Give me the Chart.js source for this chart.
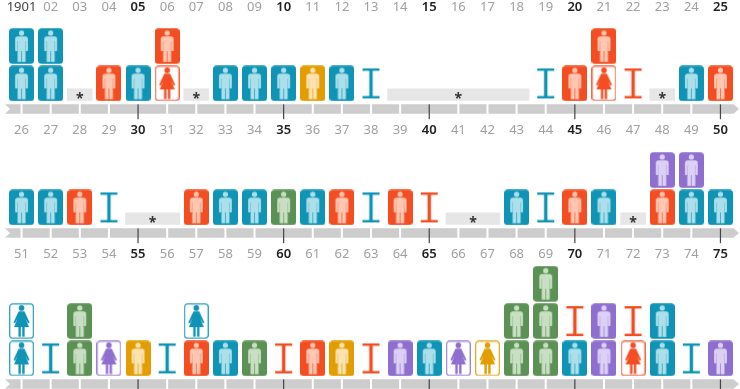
<!DOCTYPE html>
<html>
<head>
<meta charset="utf-8">
<title>Timeline</title>
<script src="https://cdn.jsdelivr.net/npm/chart.js@4"></script>
<style>
  html, body { margin: 0; padding: 0; background: #fff; }
  #page { position: relative; width: 740px; height: 389px; overflow: hidden; }
  #page canvas { position: absolute; left: 0; }
</style>
</head>
<body>
<div id="page"></div>
<script>
// Codes: colour (b r o g p) + kind (M man, W woman, I institution), bottom to top of the stack
const years1 = [1901, 1902, 1903, 1904, 1905, 1906, 1907, 1908, 1909, 1910, 1911, 1912, 1913, 1914, 1915, 1916, 1917, 1918, 1919, 1920, 1921, 1922, 1923, 1924, 1925];
const labels1 = ['1901', '02', '03', '04', '05', '06', '07', '08', '09', '10', '11', '12', '13', '14', '15', '16', '17', '18', '19', '20', '21', '22', '23', '24', '25'];
const stacks1 = ['bM bM', 'bM bM', '', 'rM', 'bM', 'rW rM', '', 'bM', 'bM', 'bM', 'oM', 'bM', 'bI', '', '', '', '', '', 'bI', 'rM', 'rW rM', 'rI', '', 'bM', 'rM'];
const gaps1 = [[1903, 1903], [1907, 1907], [1914, 1918], [1923, 1923]];

const years2 = [1926, 1927, 1928, 1929, 1930, 1931, 1932, 1933, 1934, 1935, 1936, 1937, 1938, 1939, 1940, 1941, 1942, 1943, 1944, 1945, 1946, 1947, 1948, 1949, 1950];
const labels2 = ['26', '27', '28', '29', '30', '31', '32', '33', '34', '35', '36', '37', '38', '39', '40', '41', '42', '43', '44', '45', '46', '47', '48', '49', '50'];
const stacks2 = ['bM', 'bM', 'rM', 'bI', '', '', 'rM', 'bM', 'bM', 'gM', 'bM', 'rM', 'bI', 'rM', 'rI', '', '', 'bM', 'bI', 'rM', 'bM', '', 'rM pM', 'bM pM', 'bM'];
const gaps2 = [[1930, 1931], [1941, 1942], [1947, 1947]];

const years3 = [1951, 1952, 1953, 1954, 1955, 1956, 1957, 1958, 1959, 1960, 1961, 1962, 1963, 1964, 1965, 1966, 1967, 1968, 1969, 1970, 1971, 1972, 1973, 1974, 1975];
const labels3 = ['51', '52', '53', '54', '55', '56', '57', '58', '59', '60', '61', '62', '63', '64', '65', '66', '67', '68', '69', '70', '71', '72', '73', '74', '75'];
const stacks3 = ['bW bW', 'bI', 'gM gM', 'pW', 'oM', 'bI', 'rM bW', 'bM', 'gM', 'rI', 'rM', 'oM', 'rI', 'pM', 'bM', 'pW', 'oW', 'gM gM', 'gM gM gM', 'bM rI', 'pM pM', 'rW rI', 'bM bM', 'bI', 'pM'];
const gaps3 = [];

const tileColors = { b: '#0f94b5', r: '#f34d21', o: '#e29e00', g: '#5c9155', p: '#8e6ecf' };
const figureColors = { b: '#acdfea', r: '#ffc6b1', o: '#fbe2b0', g: '#c9dfc3', p: '#dcd1f5' };
const FONT = '"Noto Sans", sans-serif';

/**
 * Paint the man silhouette on a 25x36 tile
 */
function drawMan(ctx, color) {
  ctx.fillStyle = color;
  ctx.beginPath();
  ctx.arc(12.5, 4.9, 2.6, 0, Math.PI * 2);
  ctx.fill();
  ctx.beginPath();
  ctx.roundRect(6.1, 8.3, 12.8, 14.8, [2.6, 2.6, 0.8, 0.8]);
  ctx.fill();
  ctx.fillRect(8.5, 22, 3.7, 11.8);
  ctx.fillRect(12.8, 22, 3.7, 11.8);
}

/**
 * Paint the woman silhouette on a 25x36 tile
 */
function drawWoman(ctx, color) {
  ctx.fillStyle = color;
  ctx.beginPath();
  ctx.arc(12.5, 4.9, 2.8, 0, Math.PI * 2);
  ctx.fill();
  ctx.beginPath();
  ctx.moveTo(9.6, 8.2);
  ctx.lineTo(15.4, 8.2);
  ctx.lineTo(20.6, 19.6);
  ctx.lineTo(19, 20.2);
  ctx.lineTo(16.4, 15.4);
  ctx.lineTo(20, 24);
  ctx.lineTo(5, 24);
  ctx.lineTo(8.6, 15.4);
  ctx.lineTo(6, 20.2);
  ctx.lineTo(4.4, 19.6);
  ctx.closePath();
  ctx.fill();
  ctx.fillRect(9.4, 24, 2.4, 9.6);
  ctx.fillRect(13.2, 24, 2.4, 9.6);
}

/**
 * Build the canvas used as pointStyle for one code
 */
function makeIcon(code) {
  const canvas = document.createElement('canvas');
  canvas.width = 25;
  canvas.height = 36;
  const ctx = canvas.getContext('2d');
  const color = tileColors[code[0]];
  if (code[1] === 'M') {
    ctx.fillStyle = color;
    ctx.beginPath();
    ctx.roundRect(0, 0.25, 25, 35.5, 3.5);
    ctx.fill();
    drawMan(ctx, figureColors[code[0]]);
    // faint slits that separate the arms from the torso
    ctx.globalAlpha = 0.45;
    ctx.fillStyle = color;
    ctx.fillRect(8.2, 13, 0.6, 10.2);
    ctx.fillRect(16.2, 13, 0.6, 10.2);
    ctx.globalAlpha = 1;
    ctx.fillStyle = color;
    ctx.fillRect(6, 23, 2.4, 1);
    ctx.fillRect(16.6, 23, 2.4, 1);
  } else if (code[1] === 'W') {
    ctx.strokeStyle = color;
    ctx.globalAlpha = 0.85;
    ctx.lineWidth = 1.3;
    ctx.beginPath();
    ctx.roundRect(0.65, 0.9, 23.7, 34.2, 3);
    ctx.stroke();
    ctx.globalAlpha = 1;
    drawWoman(ctx, color);
  } else {
    ctx.fillStyle = color;
    ctx.fillRect(4, 3, 17, 2.4);
    ctx.fillRect(4, 30.6, 17, 2.4);
    ctx.fillRect(10.8, 3, 3.4, 30);
  }
  return canvas;
}

const icons = {};

/**
 * Turn stack strings into scatter points, one per icon
 */
function buildPoints(years, stacks) {
  const points = [];
  stacks.forEach((stack, i) => {
    if (!stack) return;
    stack.split(' ').forEach((code, level) => {
      if (!icons[code]) icons[code] = makeIcon(code);
      points.push({ x: years[i], y: level + 0.5, code: code });
    });
  });
  return points;
}

// Grey arrow band with year gaps and five-year ticks, plus the asterisks of the empty boxes
const timelinePlugin = {
  id: 'timeline',
  beforeDatasetsDraw(chart) {
    const ctx = chart.ctx;
    const x = chart.scales.x;
    const zero = chart.scales.y.getPixelForValue(0);
    const top = zero + 2.3;
    const bottom = zero + 11.6;
    const mid = (top + bottom) / 2;
    ctx.save();
    ctx.fillStyle = '#cdcdcd';
    ctx.beginPath();
    ctx.moveTo(5, top);
    ctx.lineTo(733.5, top);
    ctx.lineTo(739, mid);
    ctx.lineTo(733.5, bottom);
    ctx.lineTo(5, bottom);
    ctx.lineTo(10, mid);
    ctx.closePath();
    ctx.fill();
    x.ticks.forEach((tick, i) => {
      const px = x.getPixelForValue(tick.value);
      if (i % 5 !== 4) {
        ctx.fillStyle = '#fff';
        ctx.fillRect(px - 1, top - 0.5, 2, bottom - top + 1);
      } else {
        ctx.fillStyle = '#444';
        ctx.fillRect(px - 0.6, top, 1.2, 14.8);
      }
    });
    ctx.restore();
  },
  afterDatasetsDraw(chart, args, opts) {
    const ctx = chart.ctx;
    ctx.save();
    ctx.fillStyle = '#333';
    ctx.font = 'bold 14px ' + FONT;
    ctx.textAlign = 'center';
    ctx.textBaseline = 'alphabetic';
    opts.gaps.forEach(span => {
      const px = chart.scales.x.getPixelForValue((span[0] + span[1]) / 2);
      const py = chart.scales.y.getPixelForValue(0);
      ctx.fillText('*', px, py + 0.5);
    });
    ctx.restore();
  }
};

/**
 * Create one timeline row
 */
function createRow(top, height, strip, labelShift, yMax, years, labels, stacks, gaps) {
  const canvas = document.createElement('canvas');
  canvas.width = 740;
  canvas.height = height;
  canvas.style.top = top + 'px';
  document.getElementById('page').appendChild(canvas);

  const gapSets = gaps.map(span => ({
    type: 'scatter',
    showLine: true,
    data: [{ x: span[0] - 0.44, y: 0.2 }, { x: span[1] + 0.44, y: 0.2 }],
    borderColor: '#e6e6e6',
    borderWidth: 12.4,
    pointRadius: 0,
    clip: false
  }));

  return new Chart(canvas, {
    type: 'scatter',
    data: {
      datasets: gapSets.concat([{
        data: buildPoints(years, stacks),
        pointStyle: ctx => icons[ctx.raw.code],
        pointRadius: 1,
        clip: false
      }])
    },
    plugins: [timelinePlugin],
    options: {
      responsive: false,
      animation: false,
      layout: { padding: { left: 7, right: 5, top: 0, bottom: 6 } },
      plugins: {
        legend: { display: false },
        tooltip: { enabled: false },
        timeline: { gaps: gaps }
      },
      scales: {
        x: {
          type: 'linear',
          position: 'top',
          min: years[0] - 0.5,
          max: years[years.length - 1] + 0.5,
          afterBuildTicks: scale => {
            scale.ticks = years.map(year => ({ value: year }));
          },
          afterFit: scale => {
            scale.height = strip;
          },
          grid: { display: false },
          border: { display: false },
          ticks: {
            autoSkip: false,
            maxRotation: 0,
            padding: -labelShift,
            callback: (value, index) => labels[index],
            color: ctx => (ctx.index % 5 === 4 ? '#222' : (labels[ctx.index].length === 4 ? '#444' : '#a0a0a0')),
            font: ctx => ({ family: FONT, size: 13, weight: ctx.index % 5 === 4 ? '600' : '400' })
          }
        },
        y: { display: false, min: -0.32, max: yMax }
      }
    }
  });
}

document.addEventListener('DOMContentLoaded', () => {
  createRow(0, 120, 14, 9, 2.361, years1, labels1, stacks1, gaps1);
  createRow(119, 125, 17, 10.5, 2.415, years2, labels2, stacks2, gaps2);
  createRow(240, 155, 20, 10.5, 3.138, years3, labels3, stacks3, gaps3);
});
</script>
</body>
</html>
